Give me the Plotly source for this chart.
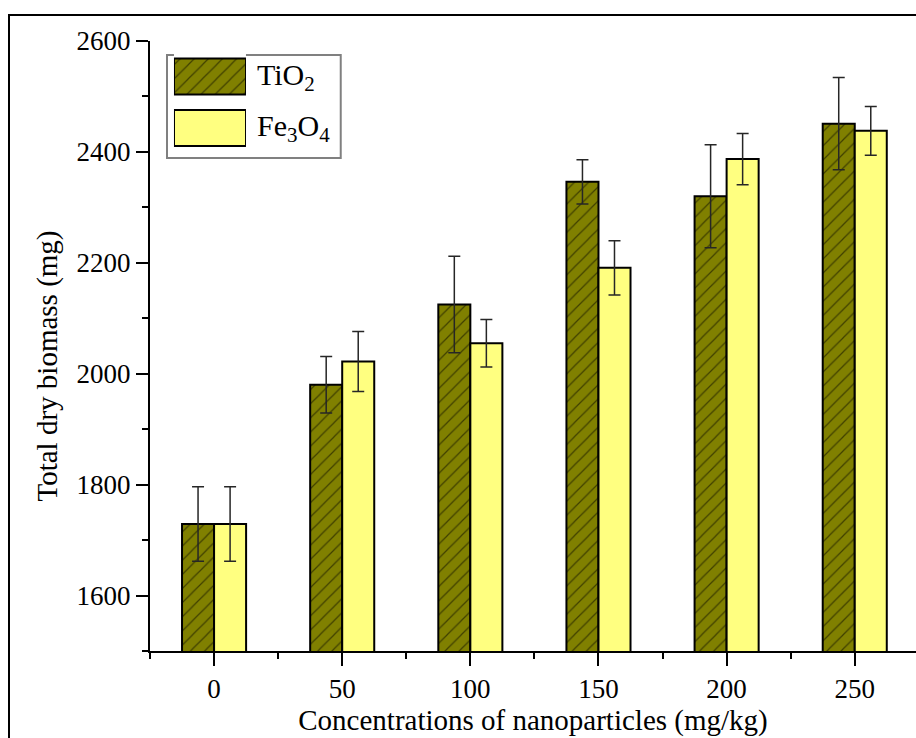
import plotly.graph_objects as go

# Nanoparticle concentrations (mg/kg)
conc = [0, 50, 100, 150, 200, 250]

# Total dry biomass (mg) and standard deviations
tio2 = [1729, 1980, 2125, 2346, 2320, 2451]
tio2_err = [67, 51, 87, 40, 93, 83]
fe3o4 = [1729, 2022, 2055, 2191, 2387, 2438]
fe3o4_err = [67, 54, 43, 49, 46, 44]

series_names = ["TiO<sub>2</sub>", "Fe<sub>3</sub>O<sub>4</sub>"]

FONT = "Liberation Serif, Times New Roman, serif"
OLIVE = "#808000"
PALE = "#FFFF80"

tio2_marker = dict(
    color=OLIVE,
    line=dict(color="black", width=2),
    pattern=dict(shape="/", fgcolor="black", bgcolor=OLIVE, size=10, solidity=0.12),
)
fe3o4_marker = dict(color=PALE, line=dict(color="black", width=2))

err_style = dict(color="#262626", thickness=1.5, width=6)

fig = go.Figure()
fig.add_trace(go.Bar(
    x=conc, y=tio2, name="TiO2", marker=tio2_marker,
    error_y=dict(type="data", array=tio2_err, **err_style),
))
fig.add_trace(go.Bar(
    x=conc, y=fe3o4, name="Fe3O4", marker=fe3o4_marker,
    error_y=dict(type="data", array=fe3o4_err, **err_style),
))

# Legend swatches drawn as bars on a small hidden overlay axis
fig.add_trace(go.Bar(
    x=[1], y=[1], orientation="h", width=0.7, marker=tio2_marker,
    xaxis="x2", yaxis="y2", hoverinfo="skip",
))
fig.add_trace(go.Bar(
    x=[1], y=[0], orientation="h", width=0.7, marker=fe3o4_marker,
    xaxis="x2", yaxis="y2", hoverinfo="skip",
))

axis_common = dict(
    showline=True, linecolor="black", linewidth=2,
    ticks="outside", tickwidth=2, tickcolor="black",
    showgrid=False, zeroline=False,
    tickfont=dict(family=FONT, size=27, color="black"),
)

fig.update_layout(
    width=916, height=738,
    margin=dict(l=150, r=0, t=41, b=87),
    paper_bgcolor="white", plot_bgcolor="white",
    barmode="group", bargap=0.5, bargroupgap=0,
    showlegend=False,
    xaxis=dict(
        range=[-25, 273.9], tick0=0, dtick=50, ticklen=13,
        minor=dict(ticks="outside", ticklen=6, tickwidth=2, tickcolor="black", dtick=25),
        title=dict(text="Concentrations of nanoparticles (mg/kg)",
                   font=dict(family=FONT, size=29, color="black"), standoff=0),
        **axis_common,
    ),
    yaxis=dict(
        range=[1500, 2600], tick0=1600, dtick=200, ticklen=12,
        minor=dict(ticks="outside", ticklen=6, tickwidth=2, tickcolor="black", dtick=100),
        **axis_common,
    ),
    xaxis2=dict(domain=[0.0313, 0.1253], range=[0, 1], visible=False, anchor="y2",
                fixedrange=True),
    yaxis2=dict(domain=[0.8152, 0.984], range=[-0.5, 1.5], visible=False, anchor="x2",
                fixedrange=True),
)

# Y-axis title
fig.add_annotation(
    xref="paper", yref="paper", x=(46.5 - 150) / 766, y=(651 - 366) / 610,
    text="Total dry biomass (mg)", textangle=-90, showarrow=False,
    xanchor="center", yanchor="middle",
    font=dict(family=FONT, size=29, color="black"),
)

# Legend frame
fig.add_shape(type="rect", xref="paper", yref="paper",
              x0=0.0222, x1=0.249, y0=(651 - 158) / 610, y1=(651 - 55) / 610,
              fillcolor="white", line=dict(color="#808080", width=2), layer="below")

# Legend labels
for i, name in enumerate(series_names):
    fig.add_annotation(
        xref="paper", yref="y2", x=0.137, y=1 - i, text=name,
        showarrow=False, xanchor="left", yanchor="middle",
        font=dict(family=FONT, size=30, color="black"),
    )

# Outer frame around the figure
fig.add_shape(type="rect", xref="paper", yref="paper",
              x0=(9 - 150) / 766, x1=1.05, y0=-0.3, y1=(651 - 15) / 610,
              line=dict(color="black", width=2), fillcolor="rgba(0,0,0,0)")

fig.write_html("out.html")
